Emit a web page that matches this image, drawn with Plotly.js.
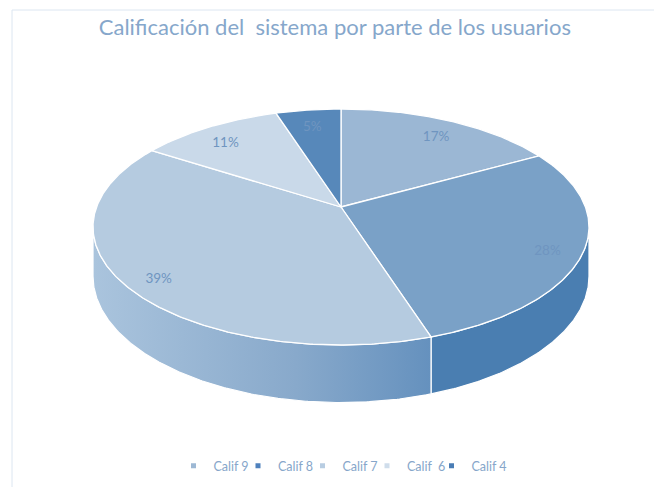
<!DOCTYPE html>
<html>
<head>
<meta charset="utf-8">
<script src="https://cdn.plot.ly/plotly-3.0.1.min.js"></script>
<style>html,body{margin:0;padding:0;background:#fff;}#chart{width:654px;height:487px;}</style>
</head>
<body>
<div id="chart"></div>
<script>
// ---- data ----
const categories = ['Calif 9', 'Calif 8', 'Calif 7', 'Calif  6', 'Calif 4'];
const values = [17, 28, 39, 11, 5];

// ---- styles ----
const topColors = ['#9BB7D4', '#7AA1C7', '#B5CBE0', '#C9D9E9', '#5788BA'];
const wallColors = ['#7F9FC0', '#4A7EB1', null, '#A9C0D8', '#3F6F9E'];
const wallGradient = [[0, '#AAC4DD'], [0.6, '#88A9CB'], [1, '#6591BE']];
const legendColors = ['#9DB8D4', '#4F81BD', '#B8CDE2', '#CFDDEB', '#4A7DB5'];
const labelColor = '#6F95C0';
const textFont = 'Lato, "Open Sans", sans-serif';

// ---- 3D pie projection (perspective ellipse in pixel space) ----
const cx = 341, cy = 207, sx = 244.4, sy = 114.6, k = 0.1695, depth = 47.8;
function proj(r, th) {
  const c = Math.cos(th), s = Math.sin(th);
  const den = 1 + k * r * c;
  return [cx + sx * r * s / den, cy - sy * r * c / den];
}
function projBottom(th) {
  const p = proj(1, th);
  return [p[0], p[1] + depth / (1 + k * Math.cos(th))];
}
const total = values.reduce((a, b) => a + b, 0);
const angles = [0];
values.forEach((v, i) => angles.push(angles[i] + 2 * Math.PI * v / total));
const thR = Math.acos(-k), thL = 2 * Math.PI - thR;
const step = Math.PI / 360;

const traces = [];
// walls (drawn first)
values.forEach((v, i) => {
  const a0 = Math.max(angles[i], thR), a1 = Math.min(angles[i + 1], thL);
  if (a1 <= a0) return;
  const xs = [], ys = [];
  const n = Math.max(2, Math.ceil((a1 - a0) / step));
  for (let j = 0; j <= n; j++) { const p = proj(1, a0 + (a1 - a0) * j / n); xs.push(p[0]); ys.push(p[1]); }
  for (let j = n; j >= 0; j--) { const p = projBottom(a0 + (a1 - a0) * j / n); xs.push(p[0]); ys.push(p[1]); }
  xs.push(xs[0]); ys.push(ys[0]);
  const t = {
    type: 'scatter', mode: 'lines', x: xs, y: ys, fill: 'toself',
    line: {color: '#FFFFFF', width: 1.2}, hoverinfo: 'skip', showlegend: false
  };
  if (wallColors[i]) t.fillcolor = wallColors[i];
  else t.fillgradient = {type: 'horizontal', colorscale: wallGradient};
  traces.push(t);
});
// top faces
values.forEach((v, i) => {
  const a0 = angles[i], a1 = angles[i + 1];
  const xs = [cx], ys = [cy];
  const n = Math.max(2, Math.ceil((a1 - a0) / step));
  for (let j = 0; j <= n; j++) { const p = proj(1, a0 + (a1 - a0) * j / n); xs.push(p[0]); ys.push(p[1]); }
  xs.push(cx); ys.push(cy);
  traces.push({
    type: 'scatter', mode: 'lines', x: xs, y: ys, fill: 'toself', fillcolor: topColors[i],
    line: {color: '#FFFFFF', width: 1.3}, hoverinfo: 'skip', showlegend: false
  });
});
// percentage labels
const lx = [], ly = [], lt = [];
values.forEach((v, i) => {
  const p = proj(0.86, (angles[i] + angles[i + 1]) / 2);
  lx.push(p[0]); ly.push(p[1] + 6); lt.push(Math.round(100 * v / total) + '%');
});
traces.push({
  type: 'scatter', mode: 'text', x: lx, y: ly, text: lt, textposition: 'middle center',
  textfont: {family: textFont, size: 13.5, color: labelColor}, hoverinfo: 'skip', showlegend: false
});
// legend entries
categories.forEach((c, i) => {
  const t = {
    type: 'scatter', mode: 'markers', x: [null], y: [null], name: c,
    marker: {symbol: 'square', size: 5, color: legendColors[i]}, showlegend: true
  };
  if (i === categories.length - 1) t.legendwidth = 48;
  traces.push(t);
});

const layout = {
  width: 654, height: 487,
  margin: {l: 0, r: 0, t: 0, b: 0},
  paper_bgcolor: '#FFFFFF', plot_bgcolor: '#FFFFFF',
  title: {
    text: 'Calificación del  sistema por parte de los usuarios',
    font: {family: textFont, size: 22, color: '#86A7CB'},
    x: 0.512, xref: 'container', xanchor: 'center',
    y: 1 - 27 / 487, yref: 'container', yanchor: 'middle'
  },
  xaxis: {range: [0, 654], visible: false, fixedrange: true},
  yaxis: {range: [487, 0], visible: false, fixedrange: true},
  showlegend: true,
  legend: {
    orientation: 'h', x: 173.5 / 654, xanchor: 'left', y: 1 - 466 / 487, yanchor: 'middle',
    font: {family: textFont, size: 12.5, color: '#86A6CA'}, itemwidth: 30,
    entrywidth: 19.5, entrywidthmode: 'pixels', bgcolor: 'rgba(0,0,0,0)'
  },
  shapes: [{
    type: 'rect', xref: 'x', yref: 'y', x0: 12, x1: 700, y0: 10, y1: 520,
    line: {color: '#DCE6F1', width: 1}, layer: 'below'
  }]
};

Plotly.newPlot('chart', traces, layout, {staticPlot: true, displayModeBar: false});
</script>
</body>
</html>
